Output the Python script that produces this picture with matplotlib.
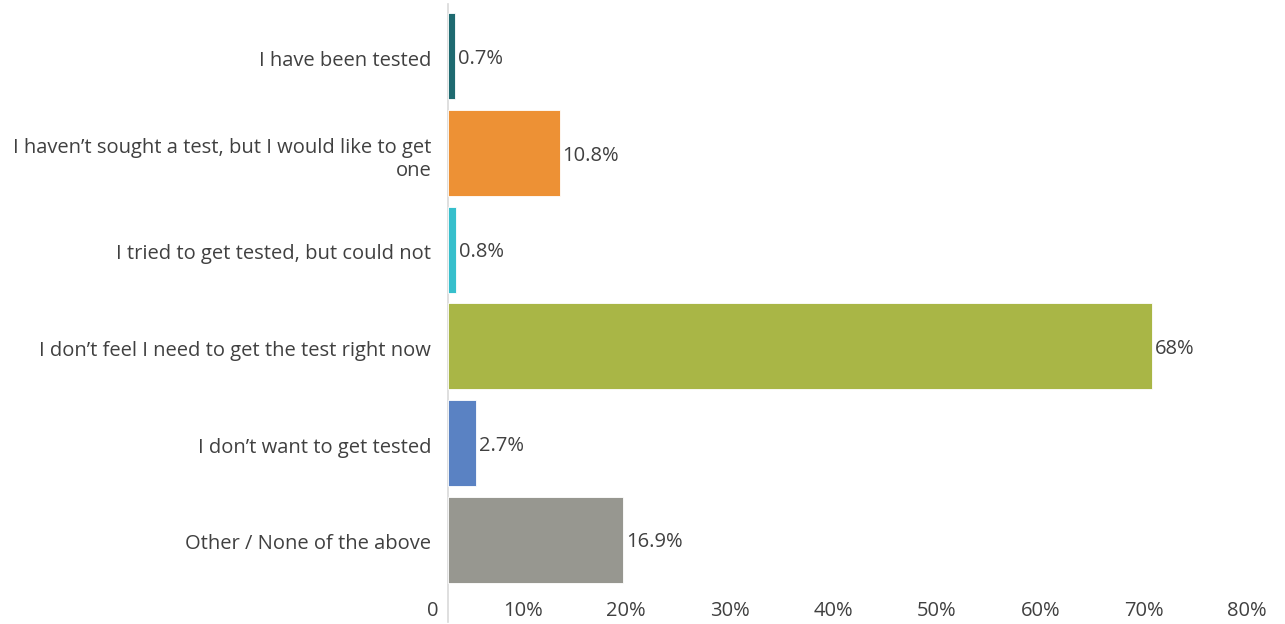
import matplotlib.pyplot as plt
from matplotlib.transforms import ScaledTranslation

categories = ['I have been tested',
              'I haven\u2019t sought a test, but I would like to get\none',
              'I tried to get tested, but could not',
              'I don\u2019t feel I need to get the test right now',
              'I don\u2019t want to get tested',
              'Other / None of the above']
values = [0.7, 10.8, 0.8, 68, 2.7, 16.9]
value_labels = ['0.7%', '10.8%', '0.8%', '68%', '2.7%', '16.9%']
xticks = [0, 10, 20, 30, 40, 50, 60, 70, 80]
xtick_labels = ['0', '10%', '20%', '30%', '40%', '50%', '60%', '70%', '80%']
colors = ['#1e6a70', '#ed9135', '#36bfcc', '#a9b646', '#5a82c3', '#979790']

plt.rcParams['font.family'] = ['Open Sans', 'DejaVu Sans']
text_color = '#404040'
fs = 14.5

fig = plt.figure(figsize=(12.85, 6.24), dpi=100)
W, H = 1285, 624
ax = fig.add_axes([448 / W, 1 - 588 / H, (1276 - 448) / W, 580 / H])

y = list(range(len(categories)))
ax.barh(y, values, height=0.89, color=colors, edgecolor='white', linewidth=0.6)
for yi, v, lab in zip(y, values, value_labels):
    ax.annotate(lab, (v, yi), xytext=(2, -2), textcoords='offset points',
                ha='left', va='center', fontsize=fs, color=text_color)

ax.set_ylim(5.5, -0.5)
ax.set_xlim(0, 80)
ax.set_yticks(y)
ax.set_yticklabels(categories, fontsize=fs, color=text_color, ha='right',
                   multialignment='right')
ax.set_xticks(xticks)
ax.set_xticklabels(xtick_labels, fontsize=fs, color=text_color)
ax.tick_params(axis='y', length=0, pad=12)
ax.tick_params(axis='x', length=0, pad=9)
for lbl in ax.get_yticklabels():
    lbl.set_transform(lbl.get_transform() + ScaledTranslation(0, -2 / 100, fig.dpi_scale_trans))
for lbl in ax.get_xticklabels():
    lbl.set_horizontalalignment('right')
    lbl.set_transform(lbl.get_transform() + ScaledTranslation(-9 / 100, 0, fig.dpi_scale_trans))

for s in ax.spines.values():
    s.set_visible(False)
ax.plot([0, 0], [-34 / 580, 1 + 4 / 580], transform=ax.transAxes, color='#d9d9d9',
        lw=1.2, clip_on=False, zorder=0)

fig.savefig('out.png', dpi=100)
